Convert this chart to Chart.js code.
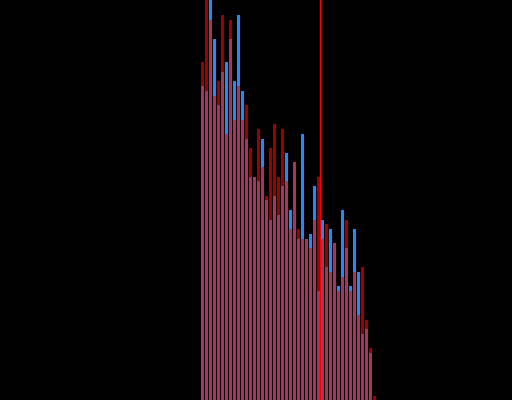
<!DOCTYPE html>
<html>
<head>
<meta charset="utf-8">
<script src="https://cdn.jsdelivr.net/npm/chart.js@4/dist/chart.umd.min.js"></script>
<style>
  html, body { margin: 0; padding: 0; background: #000; }
  #wrap { width: 512px; height: 400px; }
</style>
</head>
<body>
<div id="wrap"><canvas id="c" width="512" height="400"></canvas></div>
<script>
// bin index of each histogram bar
const bins = [0,1,2,3,4,5,6,7,8,9,10,11,12,13,14,15,16,17,18,19,20,21,
              22,23,24,25,26,27,28,29,30,31,32,33,34,35,36,37,38,39,40,41,42,43];
// blue series heights
const blueValues = [314,309,420,361,295,328,338,361,319,385,309,261,223,223,219,261,200,180,204,185,214,247,
                    190,238,161,266,161,166,214,109,180,133,171,157,114,190,152,114,171,128,66,71,47,0];
// red series heights
const redValues  = [338,430,380,304,319,385,266,380,280,314,280,295,252,223,271,233,204,252,276,223,271,219,
                    171,238,171,161,161,152,180,223,161,176,128,157,109,123,180,109,128,85,133,80,52,4];
// vertical marker position (between bins 29 and 30)
const markerX = 29.5;
const yMax = 400;

const toPts = vals => bins.map((b, i) => ({ x: b, y: vals[i] }));

new Chart(document.getElementById('c'), {
  type: 'bar',
  data: {
    datasets: [
      {
        type: 'line',
        data: [{ x: markerX, y: 0 }, { x: markerX, y: yMax }],
        borderColor: 'rgb(255,0,0)',
        borderWidth: 1.5,
        pointRadius: 0,
        order: 0
      },
      {
        data: toPts(redValues),
        backgroundColor: 'rgba(255,0,0,0.62)',
        borderWidth: 0,
        order: 1
      },
      {
        data: toPts(blueValues),
        backgroundColor: 'rgb(28,140,255)',
        borderWidth: 0,
        order: 2
      }
    ]
  },
  options: {
    responsive: false,
    animation: false,
    layout: { padding: 0 },
    datasets: {
      bar: { grouped: false, barPercentage: 0.75, categoryPercentage: 1.0 }
    },
    plugins: { legend: { display: false }, tooltip: { enabled: false } },
    scales: {
      x: { type: 'linear', display: false, min: -50.625, max: 77.375, offset: false },
      y: { display: false, min: 0, max: yMax }
    }
  }
});
</script>
</body>
</html>
